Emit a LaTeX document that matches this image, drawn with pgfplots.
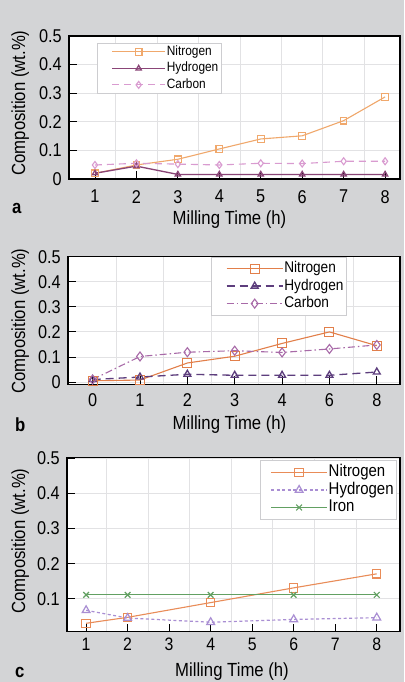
\documentclass[border=0pt]{standalone}
\usepackage{fontspec}
\setmainfont{Liberation Sans}[FakeStretch=0.88]
\usepackage{pgfplots}
\pgfplotsset{compat=1.18}

\definecolor{bggray}{RGB}{211,212,214}
\definecolor{gridgray}{RGB}{226,226,228}
\definecolor{leggray}{RGB}{205,205,208}
% panel a
\definecolor{nitA}{RGB}{240,168,108}
\definecolor{hydA}{RGB}{138,69,119}
\definecolor{carA}{RGB}{217,155,208}
% panel b
\definecolor{nitB}{RGB}{226,127,74}
\definecolor{hydB}{RGB}{93,62,125}
\definecolor{carB}{RGB}{168,106,168}
% panel c
\definecolor{nitC}{RGB}{233,140,88}
\definecolor{hydC}{RGB}{169,142,211}
\definecolor{ironC}{RGB}{98,160,98}

\pgfplotsset{
  panel/.style={
    scale only axis,
    anchor=south west,
    axis background/.style={fill=white},
    axis line style={line width=1.5pt},
    tick align=inside,
    xtick pos=bottom, ytick pos=left,
    major tick length=8pt,
    minor tick length=0pt,
    tick style={black, line width=0.9pt},
    ymajorgrids, xminorgrids,
    grid style={color=gridgray, line width=0.9pt},
    minor grid style={color=gridgray, line width=0.9pt},
    ytick={0,0.1,0.2,0.3,0.4,0.5},
    yticklabels={0,0.1,0.2,0.3,0.4,0.5},
    tick label style={font=\fontsize{18.5}{21}\selectfont},
    yticklabel style={anchor=east, inner sep=0pt, xshift=-7pt},
    xticklabel style={anchor=north, inner sep=0pt},
    legend cell align=left,
    legend style={draw=leggray, line width=0.8pt, fill=white,
      /tikz/every even column/.append style={column sep=2pt}},
  },
}

\begin{document}
\begin{tikzpicture}
\path[use as bounding box, fill=bggray] (0pt,0pt) rectangle (404pt,-682pt);

% ---------------- panel a
\begin{axis}[panel,
  at={(69pt,-179pt)}, width=331pt, height=143pt,
  xmin=0.373, xmax=8.36, ymin=0, ymax=0.5,
  xtick={1,2,3,4,5,6,7,8}, xticklabels={1,2,3,4,5,6,7,8},
  minor xtick={1.5,2.5,3.5,4.5,5.5,6.5,7.5},
  xticklabel style={yshift=-11pt},
  legend style={at={(0.085,0.951)}, anchor=north west,
    font=\fontsize{13.5}{15}\selectfont, inner xsep=2pt, inner ysep=2pt, row sep=3.5pt,
    nodes={inner ysep=0pt, inner xsep=1pt, text height=10pt, text depth=3pt}},
  legend image code/.code={\path (0pt,0pt);
    \draw[mark repeat=2, mark phase=2] plot coordinates {(12pt,0pt) (38.5pt,0pt) (65pt,0pt)};},
]
\addplot[nitA, line width=1.1pt, mark=square, mark size=3.3pt, mark options={solid}]
  coordinates {(1,0.02) (2,0.049) (3,0.069) (4,0.105) (5,0.14) (6,0.151) (7,0.204) (8,0.287)};
\addplot[hydA, line width=1.3pt, mark=triangle, mark size=3pt, mark options={solid}]
  coordinates {(1,0.02) (2,0.045) (3,0.016) (4,0.016) (5,0.016) (6,0.016) (7,0.016) (8,0.016)};
\addplot[carA, line width=1.1pt, dash pattern=on 7pt off 5pt, mark=diamond, mark size=3.5pt, mark options={solid}]
  coordinates {(1,0.049) (2,0.055) (3,0.052) (4,0.049) (5,0.055) (6,0.054) (7,0.062) (8,0.062)};
\legend{Nitrogen, Hydrogen, Carbon}
\end{axis}

% ---------------- panel b
\begin{axis}[panel,
  at={(68pt,-384.3pt)}, width=332pt, height=127.6pt,
  xmin=-0.52, xmax=6.49, ymin=-0.009, ymax=0.5,
  xtick={0,1,2,3,4,5,6}, xticklabels={0,1,2,3,4,6,8},
  minor xtick={0.5,1.5,2.5,3.5,4.5,5.5},
  xticklabel style={yshift=-9pt},
  legend style={at={(0.84,1)}, anchor=north east,
    font=\fontsize{15.5}{17}\selectfont, inner xsep=2pt, inner ysep=4pt, row sep=2.5pt,
    nodes={inner ysep=0pt, inner xsep=1pt, text height=11.5pt, text depth=3.5pt}},
  legend image code/.code={\path (0pt,0pt);
    \draw[mark repeat=2, mark phase=2] plot coordinates {(13pt,0pt) (41pt,0pt) (69pt,0pt)};},
]
\addplot[nitB, line width=1.1pt, mark=square, mark size=4.5pt, mark options={solid}]
  coordinates {(0,0.005) (1,0.008) (2,0.076) (3,0.103) (4,0.154) (5,0.2) (6,0.145)};
\addplot[hydB, line width=1.3pt, dash pattern=on 8pt off 5pt, mark=triangle, mark size=4pt, mark options={solid}]
  coordinates {(0,0.01) (1,0.02) (2,0.031) (3,0.027) (4,0.027) (5,0.027) (6,0.04)};
\addplot[carB, line width=1.1pt, dash pattern=on 7pt off 3pt on 1.5pt off 3pt, mark=diamond, mark size=4.5pt, mark options={solid}]
  coordinates {(0,0.01) (1,0.102) (2,0.119) (3,0.125) (4,0.118) (5,0.132) (6,0.148)};
\legend{Nitrogen, Hydrogen, Carbon}
\end{axis}

% ---------------- panel c
\begin{axis}[panel,
  at={(67pt,-631.5pt)}, width=333pt, height=174.2pt,
  xmin=0.54, xmax=8.56, ymin=0.0066, ymax=0.503,
  xtick={1,2,3,4,5,6,7,8}, xticklabels={1,2,3,4,5,6,7,8},
  minor xtick={1.5,2.5,3.5,4.5,5.5,6.5,7.5},
  xticklabel style={yshift=-6.5pt, font=\fontsize{18}{20}\selectfont},
  legend style={at={(0.991,0.984)}, anchor=north east,
    font=\fontsize{17}{19}\selectfont, inner xsep=2pt, inner ysep=4pt, row sep=1.5pt,
    nodes={inner ysep=0pt, inner xsep=1pt, text height=12.5pt, text depth=3.5pt}},
  legend image code/.code={\path (0pt,0pt);
    \draw[mark repeat=2, mark phase=2] plot coordinates {(8pt,0pt) (36pt,0pt) (64pt,0pt)};},
]
\addplot[nitC, line width=1.1pt, mark=square, mark size=4.2pt, mark options={solid}]
  coordinates {(1,0.03) (2,0.047) (4,0.089) (6,0.131) (8,0.171)};
\addplot[hydC, line width=1.2pt, dash pattern=on 3pt off 2.5pt, mark=triangle, mark size=4.5pt, mark options={solid}]
  coordinates {(1,0.067) (2,0.045) (4,0.033) (6,0.041) (8,0.046)};
\addplot[ironC, line width=1.2pt, mark=x, mark size=4pt, mark options={solid}]
  coordinates {(1,0.111) (2,0.111) (4,0.111) (6,0.111) (8,0.111)};
\legend{Nitrogen, Hydrogen, Iron}
\end{axis}

% ---------------- labels
\begin{scope}[every node/.style={font=\fontsize{19}{22}\selectfont, inner sep=0pt}]
\node[anchor=base] at (229.5pt,-224pt) {Milling Time (h)};
\node[anchor=base] at (229.5pt,-429.3pt) {Milling Time (h)};
\node[anchor=base] at (232pt,-676pt) {Milling Time (h)};
\node[anchor=base, rotate=90] at (25pt,-103pt) {Composition (wt.\%)};
\node[anchor=base, rotate=90] at (25pt,-321pt) {Composition (wt.\%)};
\node[anchor=base, rotate=90] at (25pt,-541pt) {Composition (wt.\%)};
\node[anchor=base west, font=\fontsize{19}{22}\selectfont\bfseries] at (12pt,-213pt) {a};
\node[anchor=base west, font=\fontsize{19}{22}\selectfont\bfseries] at (15pt,-431pt) {b};
\node[anchor=base west, font=\fontsize{19}{22}\selectfont\bfseries] at (15pt,-677pt) {c};
\end{scope}
\end{tikzpicture}
\end{document}
